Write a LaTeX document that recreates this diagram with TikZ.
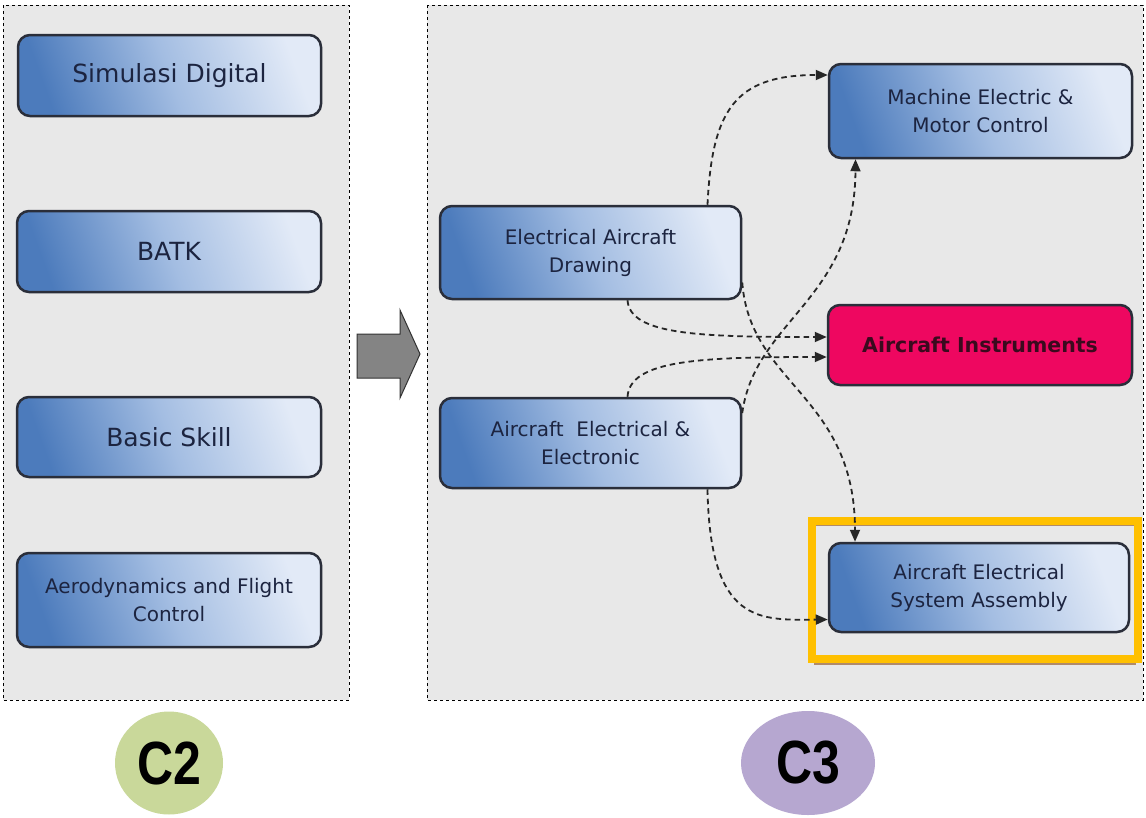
\documentclass[tikz,border=0pt]{standalone}
\usepackage{fontspec}
\setmainfont{DejaVu Sans}
\newfontfamily\cfont{Liberation Sans}
\usetikzlibrary{arrows.meta,shapes.geometric}
\definecolor{panelgray}{HTML}{E8E8E8}
\definecolor{bluedark}{HTML}{4C7BBC}
\definecolor{bluemid}{HTML}{A3BDE2}
\definecolor{bluelight}{HTML}{E2EAF7}
\definecolor{boxborder}{HTML}{2A2E3A}
\definecolor{txtnavy}{HTML}{1C2440}
\definecolor{instred}{HTML}{EE0760}
\definecolor{insttxt}{HTML}{3A0A1E}
\definecolor{hlorange}{HTML}{FFC000}
\definecolor{hlbrown}{HTML}{B08A6A}
\definecolor{ctwo}{HTML}{C9D89A}
\definecolor{cthree}{HTML}{B6A7D0}
\definecolor{arrgray}{HTML}{848484}
\tikzset{
  panel/.style={draw=black, dashed, line width=1pt, fill=panelgray},
  bluebox/.style={draw=boxborder, line width=2.5pt, rounded corners=12pt,
    left color=bluedark, right color=bluelight, middle color=bluemid, shading angle=110,
    text=txtnavy, align=center, inner sep=0pt},
  bigtxt/.style={font=\fontsize{25}{30}\selectfont},
  smalltxt/.style={font=\fontsize{20}{28}\selectfont},
  link/.style={draw=black!85, dashed, dash pattern=on 5.5pt off 4pt, line width=1.8pt,
    -{Triangle[length=12pt,width=10pt]}},
  cball/.style={ellipse, font=\cfont\bfseries\fontsize{50}{50}\selectfont, inner sep=0pt}
}
\begin{document}
\begin{tikzpicture}[x=1pt,y=-1pt]
\useasboundingbox (0,0) rectangle (1146,817);
\fill[white] (0,0) rectangle (1146,817);
% panels
\draw[panel] (3,5) rectangle (349,700);
\draw[panel] (427,5) rectangle (1143,700);
% left boxes
\node[bluebox, bigtxt, minimum width=303pt, minimum height=81pt] (sd) at (169.5,75.5) {Simulasi Digital};
\node[bluebox, bigtxt, minimum width=304pt, minimum height=81pt] (batk) at (169,251.5) {BATK};
\node[bluebox, bigtxt, minimum width=304pt, minimum height=80pt] (bs) at (169,437) {Basic Skill};
\node[bluebox, smalltxt, minimum width=304pt, minimum height=94pt] (aero) at (169,600) {Aerodynamics and Flight\\Control};
% block arrow
\draw[fill=arrgray, draw=black!80, line width=1pt]
  (357,334) -- (400,334) -- (400,310) -- (420,354) -- (400,398) -- (400,378) -- (357,378) -- cycle;
% highlight frame
\draw[hlbrown, line width=2pt] (815,525) rectangle (1135,664);
\draw[hlorange, line width=8pt] (812,521) rectangle (1138,659);
% right boxes
\node[bluebox, smalltxt, minimum width=301pt, minimum height=93pt] (ead) at (590.5,252.5) {Electrical Aircraft\\Drawing};
\node[bluebox, smalltxt, minimum width=301pt, minimum height=90pt] (aee) at (590.5,443) {Aircraft\ \ Electrical \&\\Electronic};
\node[bluebox, smalltxt, minimum width=303pt, minimum height=94pt] (mec) at (980.5,111) {Machine Electric \&\\Motor Control};
\node[draw=boxborder, line width=2.5pt, rounded corners=12pt, fill=instred, text=insttxt,
  font=\bfseries\fontsize{20.5}{24}\selectfont, minimum width=304pt, minimum height=80pt] (ai) at (980,345) {Aircraft Instruments};
\node[bluebox, smalltxt, minimum width=300pt, minimum height=89pt] (asm) at (979,587.5) {Aircraft Electrical\\System Assembly};
% connectors
\draw[link] ([xshift=117pt]ead.north) .. controls (712,110) and (735,75) .. ([yshift=36pt]mec.west);
\draw[link] ([xshift=37pt]ead.south) .. controls (630,335) and (700,337) .. ([yshift=8pt]ai.west);
\draw[link] ([yshift=-30pt]ead.east) .. controls (750,385) and (855,395) .. ([xshift=-124pt]asm.north);
\draw[link] ([xshift=37pt]aee.north) .. controls (630,360) and (700,357) .. ([yshift=-12pt]ai.west);
\draw[link] ([yshift=30pt]aee.east) .. controls (755,320) and (855,300) .. ([xshift=-125pt]mec.south);
\draw[link] ([xshift=117pt]aee.south) .. controls (710,625) and (760,620) .. ([yshift=-32pt]asm.west);
% C2 / C3
\node[cball, fill=ctwo, minimum width=108pt, minimum height=103pt] (c2) at (169,763) {\scalebox{1}[1.22]{C2}};
\node[cball, fill=cthree, minimum width=134pt, minimum height=104pt] (c3) at (808,763) {\scalebox{1}[1.22]{C3}};
\end{tikzpicture}
\end{document}
